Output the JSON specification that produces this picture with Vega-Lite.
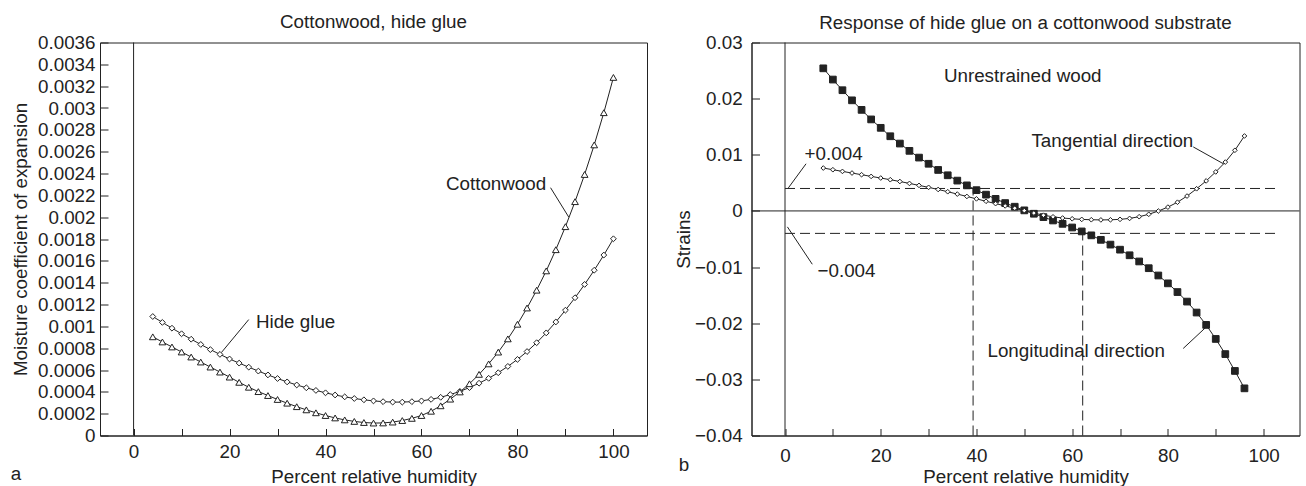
{
  "$schema": "https://vega.github.io/schema/vega-lite/v6.json",
  "background": "white",
  "padding": {"left": 10, "top": 12.5, "right": 0, "bottom": 0},
  "spacing": 25.5,
  "resolve": {"scale": {"shape": "independent", "size": "independent", "fill": "independent"}},
  "config": {
    "font": "Liberation Sans",
    "view": {"stroke": "#222", "strokeWidth": 1},
    "title": {"font": "Liberation Sans", "fontSize": 18.8, "fontWeight": "normal", "color": "#222", "frame": "group"},
    "axis": {
      "labelFont": "Liberation Sans", "titleFont": "Liberation Sans",
      "labelFontSize": 18.8, "titleFontSize": 18.8, "titleFontWeight": "normal",
      "labelColor": "#222", "titleColor": "#222", "domainColor": "#222", "tickColor": "#222",
      "grid": false, "labelOverlap": false, "labelFlush": false, "tickSize": -7
    }
  },
  "datasets": {
    "leftSeries": [
      {"x":4,"y":0.001090,"series":"Hide glue"},{"x":6,"y":0.001036,"series":"Hide glue"},{"x":8,"y":0.000983,"series":"Hide glue"},{"x":10,"y":0.000932,"series":"Hide glue"},{"x":12,"y":0.000882,"series":"Hide glue"},{"x":14,"y":0.000834,"series":"Hide glue"},{"x":16,"y":0.000787,"series":"Hide glue"},{"x":18,"y":0.000743,"series":"Hide glue"},{"x":20,"y":0.000701,"series":"Hide glue"},{"x":22,"y":0.000663,"series":"Hide glue"},{"x":24,"y":0.000626,"series":"Hide glue"},{"x":26,"y":0.000590,"series":"Hide glue"},{"x":28,"y":0.000555,"series":"Hide glue"},{"x":30,"y":0.000522,"series":"Hide glue"},{"x":32,"y":0.000491,"series":"Hide glue"},{"x":34,"y":0.000463,"series":"Hide glue"},{"x":36,"y":0.000437,"series":"Hide glue"},{"x":38,"y":0.000413,"series":"Hide glue"},{"x":40,"y":0.000391,"series":"Hide glue"},{"x":42,"y":0.000371,"series":"Hide glue"},{"x":44,"y":0.000354,"series":"Hide glue"},{"x":46,"y":0.000339,"series":"Hide glue"},{"x":48,"y":0.000327,"series":"Hide glue"},{"x":50,"y":0.000317,"series":"Hide glue"},{"x":52,"y":0.000310,"series":"Hide glue"},{"x":54,"y":0.000306,"series":"Hide glue"},{"x":56,"y":0.000306,"series":"Hide glue"},{"x":58,"y":0.000310,"series":"Hide glue"},{"x":60,"y":0.000317,"series":"Hide glue"},{"x":62,"y":0.000331,"series":"Hide glue"},{"x":64,"y":0.000350,"series":"Hide glue"},{"x":66,"y":0.000375,"series":"Hide glue"},{"x":68,"y":0.000404,"series":"Hide glue"},{"x":70,"y":0.000439,"series":"Hide glue"},{"x":72,"y":0.000479,"series":"Hide glue"},{"x":74,"y":0.000524,"series":"Hide glue"},{"x":76,"y":0.000575,"series":"Hide glue"},{"x":78,"y":0.000633,"series":"Hide glue"},{"x":80,"y":0.000697,"series":"Hide glue"},{"x":82,"y":0.000769,"series":"Hide glue"},{"x":84,"y":0.000850,"series":"Hide glue"},{"x":86,"y":0.000940,"series":"Hide glue"},{"x":88,"y":0.001040,"series":"Hide glue"},{"x":90,"y":0.001148,"series":"Hide glue"},{"x":92,"y":0.001262,"series":"Hide glue"},{"x":94,"y":0.001384,"series":"Hide glue"},{"x":96,"y":0.001514,"series":"Hide glue"},{"x":98,"y":0.001653,"series":"Hide glue"},{"x":100,"y":0.001802,"series":"Hide glue"},
      {"x":4,"y":0.000904,"series":"Cottonwood"},{"x":6,"y":0.000857,"series":"Cottonwood"},{"x":8,"y":0.000811,"series":"Cottonwood"},{"x":10,"y":0.000765,"series":"Cottonwood"},{"x":12,"y":0.000719,"series":"Cottonwood"},{"x":14,"y":0.000673,"series":"Cottonwood"},{"x":16,"y":0.000627,"series":"Cottonwood"},{"x":18,"y":0.000581,"series":"Cottonwood"},{"x":20,"y":0.000535,"series":"Cottonwood"},{"x":22,"y":0.000487,"series":"Cottonwood"},{"x":24,"y":0.000442,"series":"Cottonwood"},{"x":26,"y":0.000402,"series":"Cottonwood"},{"x":28,"y":0.000366,"series":"Cottonwood"},{"x":30,"y":0.000330,"series":"Cottonwood"},{"x":32,"y":0.000296,"series":"Cottonwood"},{"x":34,"y":0.000264,"series":"Cottonwood"},{"x":36,"y":0.000235,"series":"Cottonwood"},{"x":38,"y":0.000208,"series":"Cottonwood"},{"x":40,"y":0.000183,"series":"Cottonwood"},{"x":42,"y":0.000161,"series":"Cottonwood"},{"x":44,"y":0.000143,"series":"Cottonwood"},{"x":46,"y":0.000129,"series":"Cottonwood"},{"x":48,"y":0.000119,"series":"Cottonwood"},{"x":50,"y":0.000114,"series":"Cottonwood"},{"x":52,"y":0.000115,"series":"Cottonwood"},{"x":54,"y":0.000123,"series":"Cottonwood"},{"x":56,"y":0.000137,"series":"Cottonwood"},{"x":58,"y":0.000157,"series":"Cottonwood"},{"x":60,"y":0.000183,"series":"Cottonwood"},{"x":62,"y":0.000222,"series":"Cottonwood"},{"x":64,"y":0.000272,"series":"Cottonwood"},{"x":66,"y":0.000333,"series":"Cottonwood"},{"x":68,"y":0.000399,"series":"Cottonwood"},{"x":70,"y":0.000474,"series":"Cottonwood"},{"x":72,"y":0.000560,"series":"Cottonwood"},{"x":74,"y":0.000656,"series":"Cottonwood"},{"x":76,"y":0.000764,"series":"Cottonwood"},{"x":78,"y":0.000885,"series":"Cottonwood"},{"x":80,"y":0.001019,"series":"Cottonwood"},{"x":82,"y":0.001168,"series":"Cottonwood"},{"x":84,"y":0.001331,"series":"Cottonwood"},{"x":86,"y":0.001508,"series":"Cottonwood"},{"x":88,"y":0.001702,"series":"Cottonwood"},{"x":90,"y":0.001913,"series":"Cottonwood"},{"x":92,"y":0.002142,"series":"Cottonwood"},{"x":94,"y":0.002391,"series":"Cottonwood"},{"x":96,"y":0.002662,"series":"Cottonwood"},{"x":98,"y":0.002957,"series":"Cottonwood"},{"x":100,"y":0.003280,"series":"Cottonwood"}
    ],
    "leftRules": [
      {"x":0,"y":0,"x2":0,"y2":0.0036},
      {"x":24.0,"y":0.001062,"x2":18.3,"y2":0.00076},
      {"x":86.9,"y":0.00227,"x2":90.7,"y2":0.0020}
    ],
    "leftText": [
      {"x":25.5,"y":0.000989,"text":"Hide glue"},
      {"x":65.1,"y":0.002253,"text":"Cottonwood"},
      {"x":-25.6,"y":-0.00041,"text":"a"}
    ],
    "rightSeries": [
      {"x":8,"y":0.0254,"series":"Longitudinal"},{"x":10,"y":0.0234,"series":"Longitudinal"},{"x":12,"y":0.0215,"series":"Longitudinal"},{"x":14,"y":0.0197,"series":"Longitudinal"},{"x":16,"y":0.0180,"series":"Longitudinal"},{"x":18,"y":0.0163,"series":"Longitudinal"},{"x":20,"y":0.0148,"series":"Longitudinal"},{"x":22,"y":0.0133,"series":"Longitudinal"},{"x":24,"y":0.0120,"series":"Longitudinal"},{"x":26,"y":0.0107,"series":"Longitudinal"},{"x":28,"y":0.0095,"series":"Longitudinal"},{"x":30,"y":0.0084,"series":"Longitudinal"},{"x":32,"y":0.0073,"series":"Longitudinal"},{"x":34,"y":0.00635,"series":"Longitudinal"},{"x":36,"y":0.0054,"series":"Longitudinal"},{"x":38,"y":0.00455,"series":"Longitudinal"},{"x":40,"y":0.0037,"series":"Longitudinal"},{"x":42,"y":0.0029,"series":"Longitudinal"},{"x":44,"y":0.00215,"series":"Longitudinal"},{"x":46,"y":0.0014,"series":"Longitudinal"},{"x":48,"y":0.00075,"series":"Longitudinal"},{"x":50,"y":0.0001,"series":"Longitudinal"},{"x":52,"y":-0.0005,"series":"Longitudinal"},{"x":54,"y":-0.0011,"series":"Longitudinal"},{"x":56,"y":-0.0017,"series":"Longitudinal"},{"x":58,"y":-0.0023,"series":"Longitudinal"},{"x":60,"y":-0.00295,"series":"Longitudinal"},{"x":62,"y":-0.00365,"series":"Longitudinal"},{"x":64,"y":-0.00435,"series":"Longitudinal"},{"x":66,"y":-0.00515,"series":"Longitudinal"},{"x":68,"y":-0.0060,"series":"Longitudinal"},{"x":70,"y":-0.0069,"series":"Longitudinal"},{"x":72,"y":-0.0079,"series":"Longitudinal"},{"x":74,"y":-0.0090,"series":"Longitudinal"},{"x":76,"y":-0.0102,"series":"Longitudinal"},{"x":78,"y":-0.0115,"series":"Longitudinal"},{"x":80,"y":-0.0129,"series":"Longitudinal"},{"x":82,"y":-0.01445,"series":"Longitudinal"},{"x":84,"y":-0.01615,"series":"Longitudinal"},{"x":86,"y":-0.0181,"series":"Longitudinal"},{"x":88,"y":-0.0203,"series":"Longitudinal"},{"x":90,"y":-0.0228,"series":"Longitudinal"},{"x":92,"y":-0.0255,"series":"Longitudinal"},{"x":94,"y":-0.0285,"series":"Longitudinal"},{"x":96,"y":-0.0316,"series":"Longitudinal"},
      {"x":8,"y":0.00764,"series":"Tangential"},{"x":10,"y":0.00734,"series":"Tangential"},{"x":12,"y":0.00704,"series":"Tangential"},{"x":14,"y":0.00675,"series":"Tangential"},{"x":16,"y":0.00645,"series":"Tangential"},{"x":18,"y":0.00615,"series":"Tangential"},{"x":20,"y":0.00586,"series":"Tangential"},{"x":22,"y":0.00556,"series":"Tangential"},{"x":24,"y":0.00524,"series":"Tangential"},{"x":26,"y":0.00490,"series":"Tangential"},{"x":28,"y":0.00455,"series":"Tangential"},{"x":30,"y":0.00420,"series":"Tangential"},{"x":32,"y":0.00382,"series":"Tangential"},{"x":34,"y":0.00342,"series":"Tangential"},{"x":36,"y":0.00300,"series":"Tangential"},{"x":38,"y":0.00258,"series":"Tangential"},{"x":40,"y":0.00215,"series":"Tangential"},{"x":42,"y":0.00172,"series":"Tangential"},{"x":44,"y":0.00130,"series":"Tangential"},{"x":46,"y":0.00090,"series":"Tangential"},{"x":48,"y":0.00048,"series":"Tangential"},{"x":50,"y":0.00005,"series":"Tangential"},{"x":52,"y":-0.00038,"series":"Tangential"},{"x":54,"y":-0.00076,"series":"Tangential"},{"x":56,"y":-0.00105,"series":"Tangential"},{"x":58,"y":-0.00126,"series":"Tangential"},{"x":60,"y":-0.00140,"series":"Tangential"},{"x":62,"y":-0.00151,"series":"Tangential"},{"x":64,"y":-0.00157,"series":"Tangential"},{"x":66,"y":-0.00160,"series":"Tangential"},{"x":68,"y":-0.00158,"series":"Tangential"},{"x":70,"y":-0.00150,"series":"Tangential"},{"x":72,"y":-0.00133,"series":"Tangential"},{"x":74,"y":-0.00103,"series":"Tangential"},{"x":76,"y":-0.00060,"series":"Tangential"},{"x":78,"y":-0.00002,"series":"Tangential"},{"x":80,"y":0.00068,"series":"Tangential"},{"x":82,"y":0.00155,"series":"Tangential"},{"x":84,"y":0.00265,"series":"Tangential"},{"x":86,"y":0.00395,"series":"Tangential"},{"x":88,"y":0.00535,"series":"Tangential"},{"x":90,"y":0.00695,"series":"Tangential"},{"x":92,"y":0.00870,"series":"Tangential"},{"x":94,"y":0.01080,"series":"Tangential"},{"x":96,"y":0.01335,"series":"Tangential"}
    ],
    "rightRules": [
      {"x":0,"y":-0.04,"x2":0,"y2":0.03},
      {"x":-7,"y":0,"x2":107.5,"y2":0},
      {"x":4.4,"y":0.0084,"x2":0.7,"y2":0.0041},
      {"x":5.7,"y":-0.0095,"x2":0.5,"y2":-0.00284},
      {"x":85.3,"y":0.0114,"x2":91.6,"y2":0.0084},
      {"x":83.2,"y":-0.0245,"x2":88.1,"y2":-0.0206}
    ],
    "rightDashed": [
      {"x":0,"y":0.004,"x2":103,"y2":0.004},
      {"x":0,"y":-0.004,"x2":103,"y2":-0.004},
      {"x":39.3,"y":-0.04,"x2":39.3,"y2":0.004},
      {"x":62.2,"y":-0.04,"x2":62.2,"y2":-0.004}
    ],
    "rightText": [
      {"x":33.2,"y":0.02297,"text":"Unrestrained wood"},
      {"x":4.1,"y":0.00899,"text":"+0.004"},
      {"x":6.8,"y":-0.01172,"text":"−0.004"},
      {"x":51.5,"y":0.01137,"text":"Tangential direction"},
      {"x":42.3,"y":-0.02593,"text":"Longitudinal direction"},
      {"x":-22.2,"y":-0.0463,"text":"b"}
    ]
  },
  "hconcat": [
    {
      "width": 547,
      "height": 393,
      "title": {"text": "Cottonwood, hide glue", "offset": 1.5},
      "encoding": {
        "x": {"field": "x", "type": "quantitative",
          "scale": {"domain": [-7, 107], "nice": false, "zero": false},
          "axis": {"values": [0,10,20,30,40,50,60,70,80,90,100], "labelExpr": "datum.value % 20 == 0 ? datum.label : ''", "title": "Percent relative humidity", "labelPadding": 14, "titlePadding": 6.3}},
        "y": {"field": "y", "type": "quantitative",
          "scale": {"domain": [0, 0.0036], "nice": false, "zero": false},
          "axis": {"values": [0,0.0002,0.0004,0.0006,0.0008,0.001,0.0012,0.0014,0.0016,0.0018,0.002,0.0022,0.0024,0.0026,0.0028,0.003,0.0032,0.0034,0.0036], "format": "~f", "title": "Moisture coefficient of expansion", "labelPadding": 13, "titlePadding": 7.5, "tickSize": -8}}
      },
      "layer": [
        {"data": {"name": "leftRules"}, "mark": {"type": "rule", "color": "#222", "strokeWidth": 1},
          "encoding": {"x2": {"field": "x2"}, "y2": {"field": "y2"}}},
        {"data": {"name": "leftSeries"}, "mark": {"type": "line", "color": "#222", "strokeWidth": 1},
          "encoding": {"detail": {"field": "series", "type": "nominal"}}},
        {"data": {"name": "leftSeries"}, "mark": {"type": "point", "filled": true, "fill": "white", "stroke": "#222", "strokeWidth": 1, "opacity": 1},
          "encoding": {
            "shape": {"field": "series", "type": "nominal", "scale": {"domain": ["Hide glue", "Cottonwood"], "range": ["diamond", "triangle-up"]}, "legend": null},
            "size": {"field": "series", "type": "nominal", "scale": {"domain": ["Hide glue", "Cottonwood"], "range": [34, 45]}, "legend": null}
          }},
        {"data": {"name": "leftText"}, "mark": {"type": "text", "align": "left", "baseline": "alphabetic", "fontSize": 18.8, "color": "#222", "font": "Liberation Sans"},
          "encoding": {"text": {"field": "text", "type": "nominal"}}}
      ]
    },
    {
      "width": 548,
      "height": 393,
      "title": {"text": "Response of hide glue on a cottonwood substrate", "offset": 0.5},
      "encoding": {
        "x": {"field": "x", "type": "quantitative",
          "scale": {"domain": [-7, 107.5], "nice": false, "zero": false},
          "axis": {"values": [0,10,20,30,40,50,60,70,80,90,100], "labelExpr": "datum.value % 20 == 0 ? datum.label : ''", "title": "Percent relative humidity", "labelPadding": 18, "titlePadding": 2.3}},
        "y": {"field": "y", "type": "quantitative",
          "scale": {"domain": [-0.04, 0.03], "nice": false, "zero": false},
          "axis": {"values": [-0.04,-0.03,-0.02,-0.01,0,0.01,0.02,0.03], "format": "~f", "title": "Strains", "labelPadding": 17.4, "titlePadding": 1.5, "tickSize": -8}}
      },
      "layer": [
        {"data": {"name": "rightRules"}, "mark": {"type": "rule", "color": "#222", "strokeWidth": 1},
          "encoding": {"x2": {"field": "x2"}, "y2": {"field": "y2"}}},
        {"data": {"name": "rightDashed"}, "mark": {"type": "rule", "color": "#222", "strokeWidth": 1, "strokeDash": [10, 5]},
          "encoding": {"x2": {"field": "x2"}, "y2": {"field": "y2"}}},
        {"data": {"name": "rightSeries"}, "mark": {"type": "line", "color": "#222", "strokeWidth": 1},
          "encoding": {"detail": {"field": "series", "type": "nominal"}}},
        {"data": {"name": "rightSeries"}, "mark": {"type": "point", "filled": true, "stroke": "#222", "strokeWidth": 1, "opacity": 1},
          "encoding": {
            "shape": {"field": "series", "type": "nominal", "scale": {"domain": ["Longitudinal", "Tangential"], "range": ["square", "diamond"]}, "legend": null},
            "fill": {"field": "series", "type": "nominal", "scale": {"domain": ["Longitudinal", "Tangential"], "range": ["#222", "white"]}, "legend": null},
            "size": {"field": "series", "type": "nominal", "scale": {"domain": ["Longitudinal", "Tangential"], "range": [45, 22]}, "legend": null}
          }},
        {"data": {"name": "rightText"}, "mark": {"type": "text", "align": "left", "baseline": "alphabetic", "fontSize": 18.8, "color": "#222", "font": "Liberation Sans"},
          "encoding": {"text": {"field": "text", "type": "nominal"}}}
      ]
    }
  ]
}
